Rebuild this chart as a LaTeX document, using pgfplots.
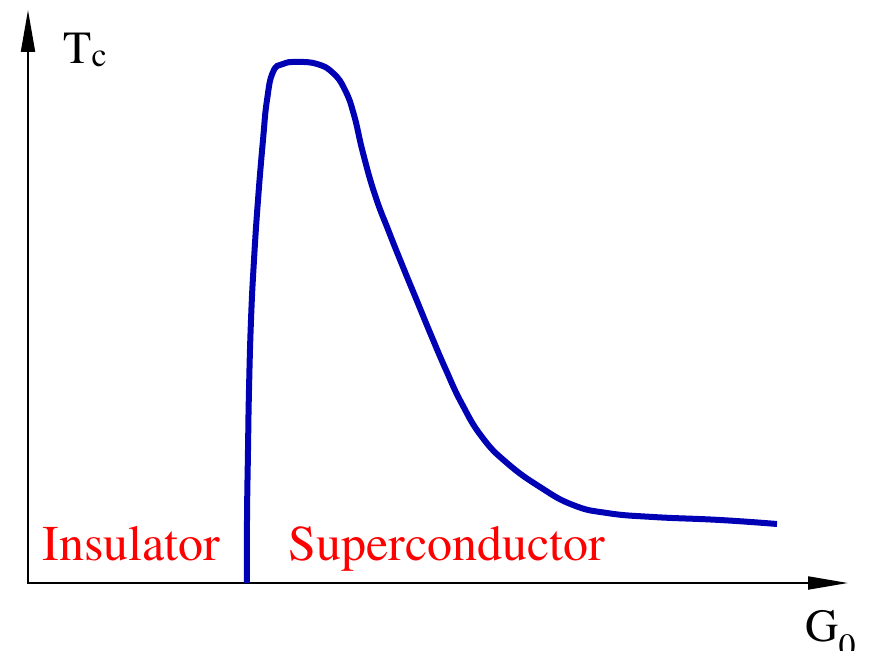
\documentclass[border=0pt]{standalone}
\usepackage{fontspec}
\setmainfont{TeX Gyre Termes}
\usepackage{pgfplots}
\pgfplotsset{compat=1.18}
\usetikzlibrary{arrows.meta}
\definecolor{curveblue}{RGB}{0,0,180}
\begin{document}
\begin{tikzpicture}
\begin{axis}[
  scale only axis, width=436pt, height=325.5pt,
  xmin=0, xmax=872, ymin=0, ymax=651, y dir=reverse,
  hide axis, clip=false]
\coordinate (bl) at (axis cs:0,651);
\coordinate (tr) at (axis cs:872,0);
\draw[line width=1pt, {Triangle[length=21pt,width=7pt]}-{Triangle[length=20pt,width=6.5pt]}]
  (axis cs:28,10) -- (axis cs:28,583) -- (axis cs:848,583);
\addplot[color=curveblue, line width=3pt, smooth, tension=0.8] coordinates {
(247,583) (247,520) (248,450) (249,390) (251,320) (254,260) (258,200) (263,140) (267,100)
(273,72) (283,64) (297,62) (317,64) (333,73) (345,90) (354,115) (363,153)
(375,195) (389,232) (403,267) (417,301) (431,335) (446,370) (462,404) (482,437)
(507,463) (540,487) (573,505) (607,513) (653,517) (720,520) (777,524)
};
\node[anchor=base west, inner sep=0, text=red, font=\fontsize{25}{30}\selectfont] at (axis cs:42,560) {Insulator};
\node[anchor=base west, inner sep=0, text=red, font=\fontsize{25}{30}\selectfont] at (axis cs:288,560) {Superconductor};
\node[anchor=base west, inner sep=0, font=\fontsize{23}{28}\selectfont] at (axis cs:63,64) {T\raisebox{-1.5pt}{\fontsize{17}{20}\selectfont c}};
\node[anchor=base west, inner sep=0, font=\fontsize{23}{28}\selectfont] at (axis cs:805,641) {G\raisebox{-8pt}{\fontsize{17}{20}\selectfont 0}};
\end{axis}
\pgfresetboundingbox
\path[use as bounding box] (bl) rectangle (tr);
\end{tikzpicture}
\end{document}
